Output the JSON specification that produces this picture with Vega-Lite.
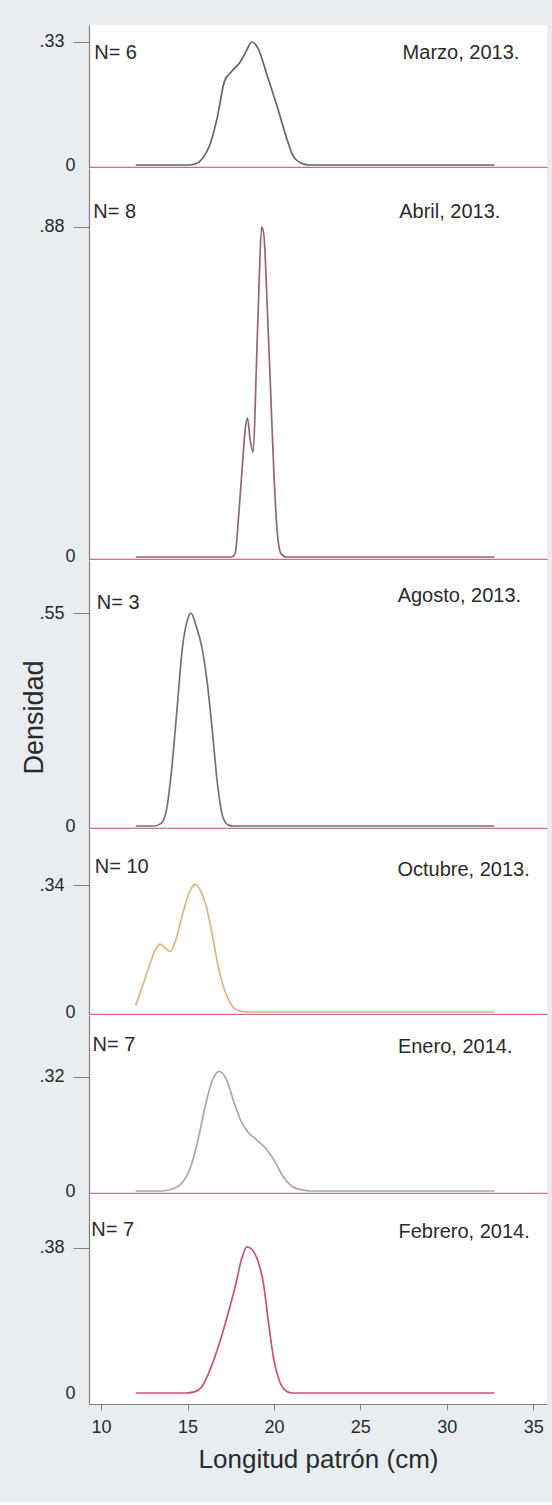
{
  "$schema": "https://vega.github.io/schema/vega-lite/v6.json",
  "padding": {"left": 20, "top": 25, "right": 6, "bottom": 30},
  "spacing": 0,
  "bounds": "flush",
  "datasets": {
    "kd": [
      {"m": "Mar", "x": 12, "y": 0}, {"m": "Mar", "x": 15.0, "y": 0}, {"m": "Mar", "x": 15.41, "y": 0.002}, {"m": "Mar", "x": 15.82, "y": 0.015}, {"m": "Mar", "x": 16.33, "y": 0.059}, {"m": "Mar", "x": 16.73, "y": 0.129}, {"m": "Mar", "x": 17.14, "y": 0.225}, {"m": "Mar", "x": 17.55, "y": 0.251}, {"m": "Mar", "x": 18.06, "y": 0.277}, {"m": "Mar", "x": 18.37, "y": 0.303}, {"m": "Mar", "x": 18.73, "y": 0.33}, {"m": "Mar", "x": 19.08, "y": 0.313}, {"m": "Mar", "x": 19.59, "y": 0.243}, {"m": "Mar", "x": 20.2, "y": 0.155}, {"m": "Mar", "x": 20.71, "y": 0.076}, {"m": "Mar", "x": 21.12, "y": 0.024}, {"m": "Mar", "x": 21.63, "y": 0.004}, {"m": "Mar", "x": 22.04, "y": 0}, {"m": "Mar", "x": 32.76, "y": 0},
      {"m": "Abr", "x": 12, "y": 0}, {"m": "Abr", "x": 17.55, "y": 0}, {"m": "Abr", "x": 17.76, "y": 0.01}, {"m": "Abr", "x": 17.96, "y": 0.11}, {"m": "Abr", "x": 18.16, "y": 0.235}, {"m": "Abr", "x": 18.35, "y": 0.345}, {"m": "Abr", "x": 18.47, "y": 0.37}, {"m": "Abr", "x": 18.63, "y": 0.31}, {"m": "Abr", "x": 18.8, "y": 0.28}, {"m": "Abr", "x": 18.98, "y": 0.5}, {"m": "Abr", "x": 19.14, "y": 0.73}, {"m": "Abr", "x": 19.29, "y": 0.88}, {"m": "Abr", "x": 19.43, "y": 0.853}, {"m": "Abr", "x": 19.59, "y": 0.693}, {"m": "Abr", "x": 19.8, "y": 0.453}, {"m": "Abr", "x": 20.0, "y": 0.222}, {"m": "Abr", "x": 20.2, "y": 0.062}, {"m": "Abr", "x": 20.41, "y": 0.009}, {"m": "Abr", "x": 20.71, "y": 0}, {"m": "Abr", "x": 32.76, "y": 0},
      {"m": "Ago", "x": 12, "y": 0}, {"m": "Ago", "x": 13.06, "y": 0}, {"m": "Ago", "x": 13.47, "y": 0.007}, {"m": "Ago", "x": 13.78, "y": 0.041}, {"m": "Ago", "x": 14.08, "y": 0.145}, {"m": "Ago", "x": 14.39, "y": 0.3}, {"m": "Ago", "x": 14.69, "y": 0.455}, {"m": "Ago", "x": 15.0, "y": 0.533}, {"m": "Ago", "x": 15.2, "y": 0.55}, {"m": "Ago", "x": 15.51, "y": 0.515}, {"m": "Ago", "x": 15.82, "y": 0.464}, {"m": "Ago", "x": 16.12, "y": 0.378}, {"m": "Ago", "x": 16.43, "y": 0.248}, {"m": "Ago", "x": 16.73, "y": 0.11}, {"m": "Ago", "x": 17.04, "y": 0.024}, {"m": "Ago", "x": 17.35, "y": 0.003}, {"m": "Ago", "x": 17.65, "y": 0}, {"m": "Ago", "x": 32.76, "y": 0},
      {"m": "Oct", "x": 12, "y": 0.018}, {"m": "Oct", "x": 12.4, "y": 0.07}, {"m": "Oct", "x": 12.8, "y": 0.125}, {"m": "Oct", "x": 13.15, "y": 0.168}, {"m": "Oct", "x": 13.4, "y": 0.182}, {"m": "Oct", "x": 13.7, "y": 0.172}, {"m": "Oct", "x": 14.0, "y": 0.162}, {"m": "Oct", "x": 14.3, "y": 0.19}, {"m": "Oct", "x": 14.7, "y": 0.26}, {"m": "Oct", "x": 15.1, "y": 0.32}, {"m": "Oct", "x": 15.45, "y": 0.342}, {"m": "Oct", "x": 15.75, "y": 0.325}, {"m": "Oct", "x": 16.1, "y": 0.28}, {"m": "Oct", "x": 16.4, "y": 0.215}, {"m": "Oct", "x": 16.7, "y": 0.14}, {"m": "Oct", "x": 17.0, "y": 0.08}, {"m": "Oct", "x": 17.3, "y": 0.04}, {"m": "Oct", "x": 17.6, "y": 0.015}, {"m": "Oct", "x": 18.0, "y": 0.003}, {"m": "Oct", "x": 18.5, "y": 0}, {"m": "Oct", "x": 32.76, "y": 0},
      {"m": "Ene", "x": 12, "y": 0}, {"m": "Ene", "x": 13.47, "y": 0}, {"m": "Ene", "x": 14.08, "y": 0.005}, {"m": "Ene", "x": 14.69, "y": 0.023}, {"m": "Ene", "x": 15.2, "y": 0.07}, {"m": "Ene", "x": 15.61, "y": 0.144}, {"m": "Ene", "x": 16.02, "y": 0.237}, {"m": "Ene", "x": 16.43, "y": 0.31}, {"m": "Ene", "x": 16.84, "y": 0.336}, {"m": "Ene", "x": 17.24, "y": 0.315}, {"m": "Ene", "x": 17.65, "y": 0.255}, {"m": "Ene", "x": 18.06, "y": 0.2}, {"m": "Ene", "x": 18.47, "y": 0.167}, {"m": "Ene", "x": 18.98, "y": 0.144}, {"m": "Ene", "x": 19.59, "y": 0.116}, {"m": "Ene", "x": 20.1, "y": 0.079}, {"m": "Ene", "x": 20.51, "y": 0.042}, {"m": "Ene", "x": 21.02, "y": 0.014}, {"m": "Ene", "x": 21.63, "y": 0.003}, {"m": "Ene", "x": 22.14, "y": 0}, {"m": "Ene", "x": 32.76, "y": 0},
      {"m": "Feb", "x": 12, "y": 0}, {"m": "Feb", "x": 14.9, "y": 0}, {"m": "Feb", "x": 15.41, "y": 0.003}, {"m": "Feb", "x": 15.82, "y": 0.016}, {"m": "Feb", "x": 16.33, "y": 0.064}, {"m": "Feb", "x": 16.84, "y": 0.13}, {"m": "Feb", "x": 17.35, "y": 0.209}, {"m": "Feb", "x": 17.76, "y": 0.279}, {"m": "Feb", "x": 18.12, "y": 0.349}, {"m": "Feb", "x": 18.43, "y": 0.383}, {"m": "Feb", "x": 18.73, "y": 0.376}, {"m": "Feb", "x": 19.08, "y": 0.345}, {"m": "Feb", "x": 19.39, "y": 0.288}, {"m": "Feb", "x": 19.69, "y": 0.183}, {"m": "Feb", "x": 20.0, "y": 0.086}, {"m": "Feb", "x": 20.31, "y": 0.033}, {"m": "Feb", "x": 20.61, "y": 0.009}, {"m": "Feb", "x": 21.02, "y": 0}, {"m": "Feb", "x": 32.76, "y": 0}
    ]
  },
  "vconcat": [
    {
      "width": 458, "height": 143,
      "layer": [
        {"data": {"name": "kd"}, "transform": [{"filter": "datum.m == 'Mar'"}],
         "mark": {"type": "line", "color": "#5d6673", "interpolate": "monotone"},
         "encoding": {
           "x": {"field": "x", "type": "quantitative", "scale": {"domain": [9.3, 35.8], "nice": false, "zero": false}, "axis": {"labels": false, "ticks": false, "title": null, "domainColor": "#dc6a8c", "domainWidth": 1.6, "offset": -1}},
           "y": {"field": "y", "type": "quantitative", "scale": {"domain": [-0.008, 0.3756], "nice": false, "zero": false},
                 "axis": {"values": [0, 0.33], "title": null, "labelExpr": "datum.value == 0 ? '0' : substring(format(datum.value, '.2f'), 1)", "tickSize": 16, "tickOpacity": {"condition": {"test": "datum.value == 0", "value": 0}, "value": 1}, "labelPadding": {"condition": {"test": "datum.value == 0", "value": -2}, "value": 9}}}
         }},
        {"data": {"values": [{}]}, "mark": {"type": "text", "align": "left", "baseline": "middle"}, "encoding": {"x": {"datum": 9.6}, "y": {"datum": 0.30}, "text": {"value": "N= 6"}}},
        {"data": {"values": [{}]}, "mark": {"type": "text", "align": "right", "baseline": "middle"}, "encoding": {"x": {"datum": 34.2}, "y": {"datum": 0.30}, "text": {"value": "Marzo, 2013."}}}
      ]
    },
    {
      "width": 458, "height": 392,
      "layer": [
        {"data": {"name": "kd"}, "transform": [{"filter": "datum.m == 'Abr'"}],
         "mark": {"type": "line", "color": "#95647a", "interpolate": "monotone"},
         "encoding": {
           "x": {"field": "x", "type": "quantitative", "scale": {"domain": [9.3, 35.8], "nice": false, "zero": false}, "axis": {"labels": false, "ticks": false, "title": null, "domainColor": "#dc6a8c", "domainWidth": 1.6, "offset": -1}},
           "y": {"field": "y", "type": "quantitative", "scale": {"domain": [-0.008, 1.037], "nice": false, "zero": false},
                 "axis": {"values": [0, 0.88], "title": null, "labelExpr": "datum.value == 0 ? '0' : substring(format(datum.value, '.2f'), 1)", "tickSize": 16, "tickOpacity": {"condition": {"test": "datum.value == 0", "value": 0}, "value": 1}, "labelPadding": {"condition": {"test": "datum.value == 0", "value": -2}, "value": 9}}}
         }},
        {"data": {"values": [{}]}, "mark": {"type": "text", "align": "left", "baseline": "middle"}, "encoding": {"x": {"datum": 9.55}, "y": {"datum": 0.92}, "text": {"value": "N= 8"}}},
        {"data": {"values": [{}]}, "mark": {"type": "text", "align": "right", "baseline": "middle"}, "encoding": {"x": {"datum": 33.1}, "y": {"datum": 0.92}, "text": {"value": "Abril, 2013."}}}
      ]
    },
    {
      "width": 458, "height": 269,
      "layer": [
        {"data": {"name": "kd"}, "transform": [{"filter": "datum.m == 'Ago'"}],
         "mark": {"type": "line", "color": "#6e7669", "interpolate": "monotone"},
         "encoding": {
           "x": {"field": "x", "type": "quantitative", "scale": {"domain": [9.3, 35.8], "nice": false, "zero": false}, "axis": {"labels": false, "ticks": false, "title": null, "domainColor": "#dc6a8c", "domainWidth": 1.6, "offset": -1}},
           "y": {"field": "y", "type": "quantitative", "scale": {"domain": [-0.0077, 0.687], "nice": false, "zero": false},
                 "axis": {"values": [0, 0.55], "title": "Densidad", "titleFontSize": 27, "titleAngle": -90, "titleX": -55, "titleY": 157, "titleAlign": "center", "titleBaseline": "middle", "labelExpr": "datum.value == 0 ? '0' : substring(format(datum.value, '.2f'), 1)", "tickSize": 16, "tickOpacity": {"condition": {"test": "datum.value == 0", "value": 0}, "value": 1}, "labelPadding": {"condition": {"test": "datum.value == 0", "value": -2}, "value": 9}}}
         }},
        {"data": {"values": [{}]}, "mark": {"type": "text", "align": "left", "baseline": "middle"}, "encoding": {"x": {"datum": 9.75}, "y": {"datum": 0.576}, "text": {"value": "N= 3"}}},
        {"data": {"values": [{}]}, "mark": {"type": "text", "align": "right", "baseline": "middle"}, "encoding": {"x": {"datum": 34.3}, "y": {"datum": 0.594}, "text": {"value": "Agosto, 2013."}}}
      ]
    },
    {
      "width": 458, "height": 186,
      "layer": [
        {"data": {"name": "kd"}, "transform": [{"filter": "datum.m == 'Oct'"}],
         "mark": {"type": "line", "color": "#dcb57e", "interpolate": "monotone"},
         "encoding": {
           "x": {"field": "x", "type": "quantitative", "scale": {"domain": [9.3, 35.8], "nice": false, "zero": false}, "axis": {"labels": false, "ticks": false, "title": null, "domainColor": "#dc6a8c", "domainWidth": 1.6, "offset": -1}},
           "y": {"field": "y", "type": "quantitative", "scale": {"domain": [-0.008, 0.49], "nice": false, "zero": false},
                 "axis": {"values": [0, 0.34], "title": null, "labelExpr": "datum.value == 0 ? '0' : substring(format(datum.value, '.2f'), 1)", "tickSize": 16, "tickOpacity": {"condition": {"test": "datum.value == 0", "value": 0}, "value": 1}, "labelPadding": {"condition": {"test": "datum.value == 0", "value": -2}, "value": 9}}}
         }},
        {"data": {"values": [{}]}, "mark": {"type": "text", "align": "left", "baseline": "middle"}, "encoding": {"x": {"datum": 9.63}, "y": {"datum": 0.388}, "text": {"value": "N= 10"}}},
        {"data": {"values": [{}]}, "mark": {"type": "text", "align": "right", "baseline": "middle"}, "encoding": {"x": {"datum": 34.8}, "y": {"datum": 0.38}, "text": {"value": "Octubre, 2013."}}}
      ]
    },
    {
      "width": 458, "height": 179,
      "layer": [
        {"data": {"name": "kd"}, "transform": [{"filter": "datum.m == 'Ene'"}],
         "mark": {"type": "line", "color": "#a5aaaa", "interpolate": "monotone"},
         "encoding": {
           "x": {"field": "x", "type": "quantitative", "scale": {"domain": [9.3, 35.8], "nice": false, "zero": false}, "axis": {"labels": false, "ticks": false, "title": null, "domainColor": "#dc6a8c", "domainWidth": 1.6, "offset": -1}},
           "y": {"field": "y", "type": "quantitative", "scale": {"domain": [-0.0084, 0.494], "nice": false, "zero": false},
                 "axis": {"values": [0, 0.32], "title": null, "labelExpr": "datum.value == 0 ? '0' : substring(format(datum.value, '.2f'), 1)", "tickSize": 16, "tickOpacity": {"condition": {"test": "datum.value == 0", "value": 0}, "value": 1}, "labelPadding": {"condition": {"test": "datum.value == 0", "value": -2}, "value": 9}}}
         }},
        {"data": {"values": [{}]}, "mark": {"type": "text", "align": "left", "baseline": "middle"}, "encoding": {"x": {"datum": 9.5}, "y": {"datum": 0.41}, "text": {"value": "N= 7"}}},
        {"data": {"values": [{}]}, "mark": {"type": "text", "align": "right", "baseline": "middle"}, "encoding": {"x": {"datum": 33.8}, "y": {"datum": 0.404}, "text": {"value": "Enero, 2014."}}}
      ]
    },
    {
      "width": 458, "height": 210,
      "layer": [
        {"data": {"name": "kd"}, "transform": [{"filter": "datum.m == 'Feb'"}],
         "mark": {"type": "line", "color": "#cc4f80", "interpolate": "monotone"},
         "encoding": {
           "x": {"field": "x", "type": "quantitative", "scale": {"domain": [9.3, 35.8], "nice": false, "zero": false},
                 "axis": {"values": [10, 15, 20, 25, 30, 35], "title": "Longitud patrón (cm)", "titleFontSize": 26, "titlePadding": 10, "labelFontSize": 18, "labelPadding": 8, "tickSize": 6, "labelFlush": false}},
           "y": {"field": "y", "type": "quantitative", "scale": {"domain": [-0.0288, 0.5215], "nice": false, "zero": false},
                 "axis": {"values": [0, 0.38], "title": null, "labelExpr": "datum.value == 0 ? '0' : substring(format(datum.value, '.2f'), 1)", "tickSize": 16, "tickOpacity": {"condition": {"test": "datum.value == 0", "value": 0}, "value": 1}, "labelPadding": {"condition": {"test": "datum.value == 0", "value": -2}, "value": 9}}}
         }},
        {"data": {"values": [{}]}, "mark": {"type": "text", "align": "left", "baseline": "middle"}, "encoding": {"x": {"datum": 9.43}, "y": {"datum": 0.427}, "text": {"value": "N= 7"}}},
        {"data": {"values": [{}]}, "mark": {"type": "text", "align": "right", "baseline": "middle"}, "encoding": {"x": {"datum": 34.8}, "y": {"datum": 0.422}, "text": {"value": "Febrero, 2014."}}}
      ]
    }
  ],
  "config": {
    "font": "Liberation Sans",
    "background": "#e7edf0",
    "view": {"fill": "white", "stroke": null},
    "axis": {"grid": false, "labelFont": "Liberation Sans", "titleFont": "Liberation Sans", "labelColor": "#2a2a2a", "titleColor": "#2a2a2a", "titleFontWeight": "normal", "domainColor": "#808080", "tickColor": "#808080", "labelFontSize": 18, "domainWidth": 1.2, "labelOverlap": false},
    "text": {"font": "Liberation Sans", "fontSize": 20, "color": "#2a2a2a"},
    "line": {"strokeWidth": 1.7}
  }
}
